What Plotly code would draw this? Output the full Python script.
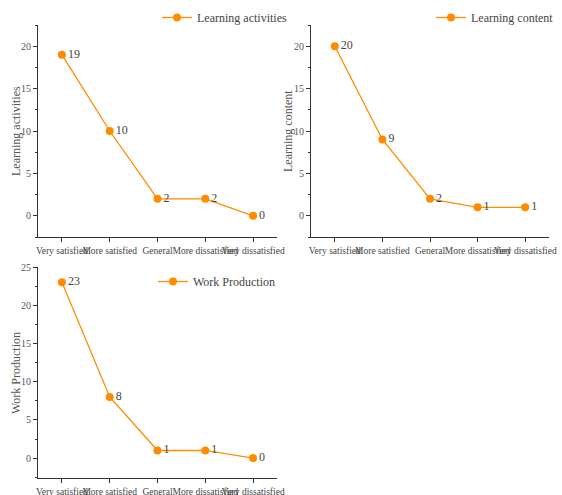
import plotly.graph_objects as go

categories = ["Very satisfied", "More satisfied", "General", "More dissatisfied", "Very dissatisfied"]
learning_activities = [19, 10, 2, 2, 0]
learning_content = [20, 9, 2, 1, 1]
work_production = [23, 8, 1, 1, 0]

FONT = "Liberation Serif"
ORANGE = "#FF8C00"
W, H = 562, 495

fig = go.Figure()

series = [
    ("Learning activities", learning_activities, "x", "y", "legend"),
    ("Learning content", learning_content, "x2", "y2", "legend2"),
    ("Work Production", work_production, "x3", "y3", "legend3"),
]
for name, vals, xa, ya, lg in series:
    fig.add_trace(go.Scatter(
        x=categories, y=vals, name=name, xaxis=xa, yaxis=ya, legend=lg,
        mode="lines+markers+text", text=[str(v) for v in vals],
        textposition="middle right",
        textfont=dict(family=FONT, size=12, color="#444"),
        line=dict(color=ORANGE, width=1.3),
        marker=dict(color=ORANGE, size=8),
        showlegend=True, cliponaxis=False,
    ))

def px_x(a, b):
    return [a / W, b / W]

def px_y(top, bottom):
    return [1 - bottom / H, 1 - top / H]

xcommon = dict(
    type="category", range=[-0.5, 4.5], showline=True, linecolor="#333", linewidth=1.2,
    ticks="outside", ticklen=4, tickcolor="#333", showgrid=False, zeroline=False,
    tickangle=0, automargin=False,
    tickfont=dict(family=FONT, size=9.5, color="#444"), fixedrange=True,
)
ycommon = dict(
    showline=True, linecolor="#333", linewidth=1.2, ticks="outside", ticklen=4,
    tickcolor="#333", showgrid=False, zeroline=False, dtick=5, automargin=False,
    tickfont=dict(family=FONT, size=10, color="#555"),
    minor=dict(ticks="outside", ticklen=2, dtick=2.5, tickcolor="#333", showgrid=False),
)

def ytitle(text, xpx, ymid_px):
    return dict(text=text, x=xpx / W, y=1 - ymid_px / H, xref="paper", yref="paper",
                textangle=-90, showarrow=False, xanchor="center", yanchor="middle",
                font=dict(family=FONT, size=12, color="#555"))

layout = dict(
    width=W, height=H, margin=dict(l=0, r=0, t=0, b=0),
    plot_bgcolor="white", paper_bgcolor="white",
    font=dict(family=FONT, color="#444"),
    xaxis=dict(xcommon, domain=px_x(38, 277), anchor="y"),
    yaxis=dict(ycommon, domain=px_y(25, 237), anchor="x", range=[-2.5, 22.5]),
    xaxis2=dict(xcommon, domain=px_x(311, 549), anchor="y2"),
    yaxis2=dict(ycommon, domain=px_y(25, 237), anchor="x2", range=[-2.5, 22.5]),
    xaxis3=dict(xcommon, domain=px_x(38, 277), anchor="y3"),
    yaxis3=dict(ycommon, domain=px_y(267, 478), anchor="x3", range=[-2.6, 25]),
    annotations=[
        ytitle("Learning activities", 16, 131),
        ytitle("Learning content", 288, 131),
        ytitle("Work Production", 16, 373),
    ],
    legend=dict(x=157 / W, y=1 - 3 / H, xanchor="left", yanchor="top", bgcolor="rgba(0,0,0,0)",
                font=dict(family=FONT, size=12, color="#444")),
    legend2=dict(x=431 / W, y=1 - 3 / H, xanchor="left", yanchor="top", bgcolor="rgba(0,0,0,0)",
                 font=dict(family=FONT, size=12, color="#444")),
    legend3=dict(x=153 / W, y=1 - 267 / H, xanchor="left", yanchor="top", bgcolor="rgba(0,0,0,0)",
                 font=dict(family=FONT, size=12, color="#444")),
)
fig.update_layout(**layout)
fig.write_html(
    "out.html",
    config={"displayModeBar": False},
    post_script="document.body.style.margin='0';document.body.style.overflow='hidden';",
)
